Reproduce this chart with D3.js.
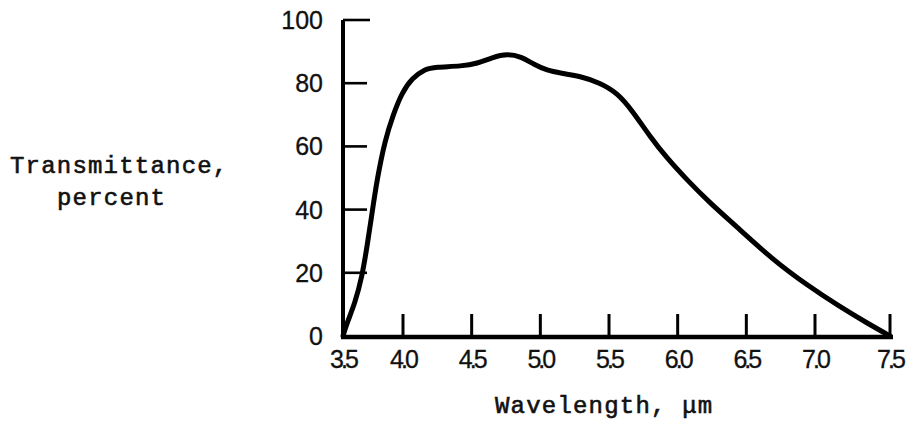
<!DOCTYPE html>
<html lang="en">
<head>
  <meta charset="UTF-8" />
  <title>Transmittance vs wavelength</title>
  <script src="https://d3js.org/d3.v7.min.js"></script>
  <style>
    body { margin: 0; padding: 0; background: #fff; }
    svg { display: block; background: #fff; }
    .tick-label { font-family: "Liberation Sans", Arial, sans-serif; font-size: 25px; fill: #111; stroke: #111; stroke-width: 0.3px; }
    .axis-title { font-family: "Liberation Mono", "Courier New", monospace; font-size: 24px; letter-spacing: 1.2px; fill: #111; stroke: #111; stroke-width: 0.6px; }
  </style>
</head>
<body>
  <svg width="916" height="427"></svg>
  <script>
    // curve
    const wavelength = [3.50, 3.533, 3.60, 3.658, 3.70, 3.742, 3.783, 3.85, 3.917, 3.99,
      4.066, 4.16, 4.233, 4.43, 4.54, 4.65, 4.76, 4.86, 4.95, 5.05,
      5.15, 5.29, 5.43, 5.56, 5.675, 5.80, 5.922, 6.068, 6.235, 6.432,
      6.694, 6.942, 7.167, 7.347, 7.50];
    const transmittance = [0, 4.1, 10.4, 18.7, 28.2, 38.9, 49.4, 62.0, 69.9, 76.9,
      81.6, 84.5, 85.1, 85.4, 86.2, 88.2, 89.3, 88.4, 86.0, 84.0,
      83.2, 82.2, 80.2, 77.0, 71.0, 63.0, 56.3, 49.4, 42.1, 34.5,
      24.1, 16.1, 9.2, 4.1, 0];

    const xTicks = [4.0, 4.5, 5.0, 5.5, 6.0, 6.5, 7.0, 7.5];
    const xTickLabels = ["3.5", "4.0", "4.5", "5.0", "5.5", "6.0", "6.5", "7.0", "7.5"];
    const yTicks = [20, 40, 60, 80, 100];
    const yTickLabels = [0, 20, 40, 60, 80, 100];

    const svg = d3.select("svg");

    // hand-drawn axis: first and last intervals are a bit off
    const x = d3.scaleLinear()
      .domain([3.5, 4.0, 7.0, 7.5])
      .range([343, 403, 815, 890]);
    const y = d3.scaleLinear()
      .domain([0, 100])
      .range([336, 20]);

    const ink = "#000";

    // axes
    svg.append("line")
      .attr("x1", x(3.5)).attr("x2", x(3.5))
      .attr("y1", y(100)).attr("y2", y(0) + 2)
      .attr("stroke", ink).attr("stroke-width", 4);
    svg.append("line")
      .attr("x1", x(3.5) - 2).attr("x2", x(7.5) + 3)
      .attr("y1", y(0) + 1).attr("y2", y(0) + 1)
      .attr("stroke", ink).attr("stroke-width", 4.5);

    svg.selectAll(".ytick")
      .data(yTicks)
      .enter().append("line")
      .attr("class", "ytick")
      .attr("x1", x(3.5))
      .attr("x2", d => x(3.5) + (d === 100 ? 27 : 24))
      .attr("y1", d => y(d)).attr("y2", d => y(d))
      .attr("stroke", ink).attr("stroke-width", 2.6);

    svg.selectAll(".xtick")
      .data(xTicks)
      .enter().append("line")
      .attr("class", "xtick")
      .attr("x1", d => x(d)).attr("x2", d => x(d))
      .attr("y1", y(0)).attr("y2", y(0) - 22)
      .attr("stroke", ink).attr("stroke-width", 3);

    svg.selectAll(".ylab")
      .data(yTickLabels)
      .enter().append("text")
      .attr("class", "tick-label")
      .attr("x", 323)
      .attr("y", d => y(d) + 9)
      .attr("text-anchor", "end")
      .text(d => d);

    svg.selectAll(".xlab")
      .data(xTickLabels)
      .enter().append("text")
      .attr("class", "tick-label")
      .attr("x", d => x(+d))
      .attr("y", 368)
      .attr("text-anchor", "middle")
      .attr("letter-spacing", "-3px")
      .text(d => d);

    // curve
    const pts = wavelength.map((w, i) => [w, transmittance[i]]);
    const line = d3.line()
      .x(d => x(d[0]))
      .y(d => y(d[1]))
      .curve(d3.curveBasis);

    svg.append("path")
      .datum(pts)
      .attr("d", line)
      .attr("fill", "none")
      .attr("stroke", ink)
      .attr("stroke-width", 5)
      .attr("stroke-linejoin", "round")
      .attr("stroke-linecap", "round");

    // titles
    svg.append("text")
      .attr("class", "axis-title")
      .attr("x", 10).attr("y", 173)
      .text("Transmittance,");
    svg.append("text")
      .attr("class", "axis-title")
      .attr("x", 57).attr("y", 205)
      .text("percent");
    svg.append("text")
      .attr("class", "axis-title")
      .attr("x", 495).attr("y", 413)
      .text("Wavelength, μm");
  </script>
</body>
</html>
